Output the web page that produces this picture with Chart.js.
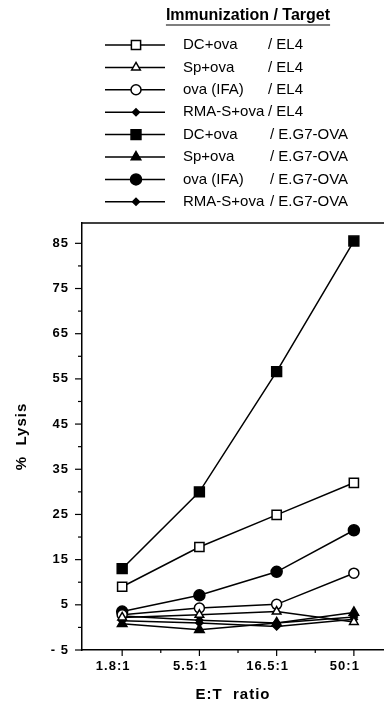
<!DOCTYPE html>
<html>
<head>
<meta charset="utf-8">
<script src="https://cdn.jsdelivr.net/npm/chart.js@4/dist/chart.umd.min.js"></script>
<style>
   html, body { margin: 0; padding: 0; background: #fff; }
   #wrap { width: 384px; height: 704px; }
</style>
</head>
<body>
<div id="wrap"><canvas id="chart" width="384" height="704"></canvas></div>
<script>
// Categories (E:T ratio)
const ratios = ['1.8:1', '5.5:1', '16.5:1', '50:1'];

// Legend texts
const immunizations = ['DC+ova', 'Sp+ova', 'ova (IFA)', 'RMA-S+ova', 'DC+ova', 'Sp+ova', 'ova (IFA)', 'RMA-S+ova'];
const targets = ['/ EL4', '/ EL4', '/ EL4', '/ EL4', '/ E.G7-OVA', '/ E.G7-OVA', '/ E.G7-OVA', '/ E.G7-OVA'];

// % Lysis values
const dcEL4 = [9.0, 17.8, 24.9, 32.0];
const spEL4 = [2.2, 2.8, 3.5, 1.2];
const ovaEL4 = [2.8, 4.3, 5.1, 12.0];
const rmaEL4 = [1.5, 1.0, 0.2, 1.8];
const dcEG7 = [13.0, 30.0, 56.6, 85.5];
const spEG7 = [0.8, -0.5, 1.0, 3.3];
const ovaEG7 = [3.5, 7.1, 12.3, 21.5];
const rmaEG7 = [2.5, 1.6, 1.0, 2.3];

// Y tick labels
const yTickLabels = [-5, 5, 15, 25, 35, 45, 55, 65, 75, 85];

// Marker styles, in legend order
const markers = [
   { style: 'rect', radius: 6.5, fill: '#fff' },
   { style: 'triangle', radius: 5, fill: '#fff' },
   { style: 'circle', radius: 5, fill: '#fff' },
   { style: 'rectRot', radius: 3.5, fill: '#000' },
   { style: 'rect', radius: 7, fill: '#000' },
   { style: 'triangle', radius: 5.5, fill: '#000' },
   { style: 'circle', radius: 5.5, fill: '#000' },
   { style: 'rectRot', radius: 3.5, fill: '#000' }
];
const seriesValues = [dcEL4, spEL4, ovaEL4, rmaEL4, dcEG7, spEG7, ovaEG7, rmaEG7];

const FONT = '"Liberation Sans", Arial, sans-serif';

function makeDataset(values, i) {
   const m = markers[i];
   return {
      label: immunizations[i] + ' ' + targets[i],
      data: values.map((v, k) => ({ x: k, y: v })),
      borderColor: '#000',
      borderWidth: 1.5,
      pointStyle: m.style,
      pointRadius: m.radius,
      pointBackgroundColor: m.fill,
      pointBorderColor: '#000',
      pointBorderWidth: 1.5,
      fill: false,
      clip: false,
      tension: 0
   };
}

// Dessine un marqueur (légende)
function drawMarker(ctx, m, x, y) {
   ctx.save();
   ctx.fillStyle = m.fill;
   ctx.strokeStyle = '#000';
   ctx.lineWidth = 1.5;
   Chart.helpers.drawPoint(ctx, { pointStyle: m.style, radius: m.radius, borderWidth: 1.5, rotation: 0 }, x, y);
   ctx.restore();
}

const framePlugin = {
   id: 'frame',
   beforeDraw(chart) {
      // Espacement des lettres pour les graduations
      chart.ctx.letterSpacing = '1px';
   },
   beforeDatasetsDraw(chart) {
      chart.ctx.letterSpacing = '0px';
   },
   afterDraw(chart) {
      const ctx = chart.ctx;
      const area = chart.chartArea;
      const xs = chart.scales.x;
      const ys = chart.scales.y;
      ctx.save();
      ctx.letterSpacing = '0px';
      ctx.strokeStyle = '#000';
      ctx.lineWidth = 1.5;
      // Ligne du haut
      ctx.beginPath();
      ctx.moveTo(area.left, area.top);
      ctx.lineTo(area.right, area.top);
      ctx.stroke();
      // Graduations axe Y
      ctx.lineWidth = 1.2;
      for (let v = -5; v <= 85; v += 5) {
         const py = ys.getPixelForValue(v);
         const len = yTickLabels.includes(v) ? 7 : 4;
         ctx.beginPath();
         ctx.moveTo(area.left - len, py);
         ctx.lineTo(area.left, py);
         ctx.stroke();
      }
      // Graduations axe X
      for (let k = 0; k < ratios.length; k++) {
         let px = xs.getPixelForValue(k);
         ctx.beginPath();
         ctx.moveTo(px, area.bottom);
         ctx.lineTo(px, area.bottom + 6);
         ctx.stroke();
         if (k < ratios.length - 1) {
            px = xs.getPixelForValue(k + 0.5);
            ctx.beginPath();
            ctx.moveTo(px, area.bottom);
            ctx.lineTo(px, area.bottom + 3);
            ctx.stroke();
         }
      }

      // Légende
      ctx.fillStyle = '#000';
      ctx.textBaseline = 'middle';
      ctx.font = 'bold 16px ' + FONT;
      ctx.textAlign = 'center';
      const title = 'Immunization / Target';
      const tw = ctx.measureText(title).width;
      ctx.fillText(title, 248, 16);
      ctx.lineWidth = 1.2;
      ctx.beginPath();
      ctx.moveTo(248 - tw / 2, 25);
      ctx.lineTo(248 + tw / 2, 25);
      ctx.stroke();

      ctx.font = '15px ' + FONT;
      ctx.textAlign = 'left';
      for (let i = 0; i < immunizations.length; i++) {
         const y = 45 + i * 22.4;
         ctx.lineWidth = 1.5;
         ctx.beginPath();
         ctx.moveTo(105, y);
         ctx.lineTo(165, y);
         ctx.stroke();
         drawMarker(ctx, markers[i], 136, y);
         ctx.fillStyle = '#000';
         ctx.fillText(immunizations[i], 183, y);
         ctx.fillText(targets[i], i < 4 ? 268 : 270, y);
      }
      ctx.restore();
   }
};

new Chart(document.getElementById('chart'), {
   type: 'line',
   data: {
      datasets: seriesValues.map(makeDataset)
   },
   options: {
      responsive: false,
      animation: false,
      events: [],
      layout: {
         autoPadding: false,
         padding: { top: 223, right: 0, bottom: 0, left: 0 }
      },
      plugins: {
         legend: { display: false },
         tooltip: { enabled: false }
      },
      scales: {
         x: {
            type: 'linear',
            min: -0.52,
            max: 3.39,
            afterBuildTicks: (scale) => { scale.ticks = ratios.map((r, k) => ({ value: k })); },
            afterFit: (scale) => {
               scale.height = 54;
               scale.paddingLeft = 0;
               scale.paddingRight = 0;
            },
            ticks: {
               callback: (v) => ratios[v],
               color: '#000',
               font: { family: FONT, size: 13, weight: 'bold' },
               padding: 9,
               labelOffset: -9,
               maxRotation: 0
            },
            grid: { display: false, drawTicks: false },
            border: { display: true, color: '#000', width: 1.5 },
            title: {
               display: true,
               text: 'E:T  ratio',
               color: '#000',
               font: { family: FONT, size: 15, weight: 'bold' },
               padding: { top: 2, bottom: 0 }
            }
         },
         y: {
            min: -5,
            max: 89.5,
            afterBuildTicks: (scale) => { scale.ticks = yTickLabels.map(v => ({ value: v })); },
            afterFit: (scale) => {
               scale.width = 82;
               scale.paddingTop = 0;
               scale.paddingBottom = 0;
            },
            ticks: {
               callback: (v) => v < 0 ? '- ' + Math.abs(v) : String(v),
               color: '#000',
               font: { family: FONT, size: 13, weight: 'bold' },
               padding: 13
            },
            grid: { display: false, drawTicks: false },
            border: { display: true, color: '#000', width: 1.5 },
            title: {
               display: true,
               text: '%  Lysis',
               color: '#000',
               font: { family: FONT, size: 15, weight: 'bold' },
               padding: { top: 13, bottom: 0 }
            }
         }
      }
   },
   plugins: [framePlugin]
});
</script>
</body>
</html>
